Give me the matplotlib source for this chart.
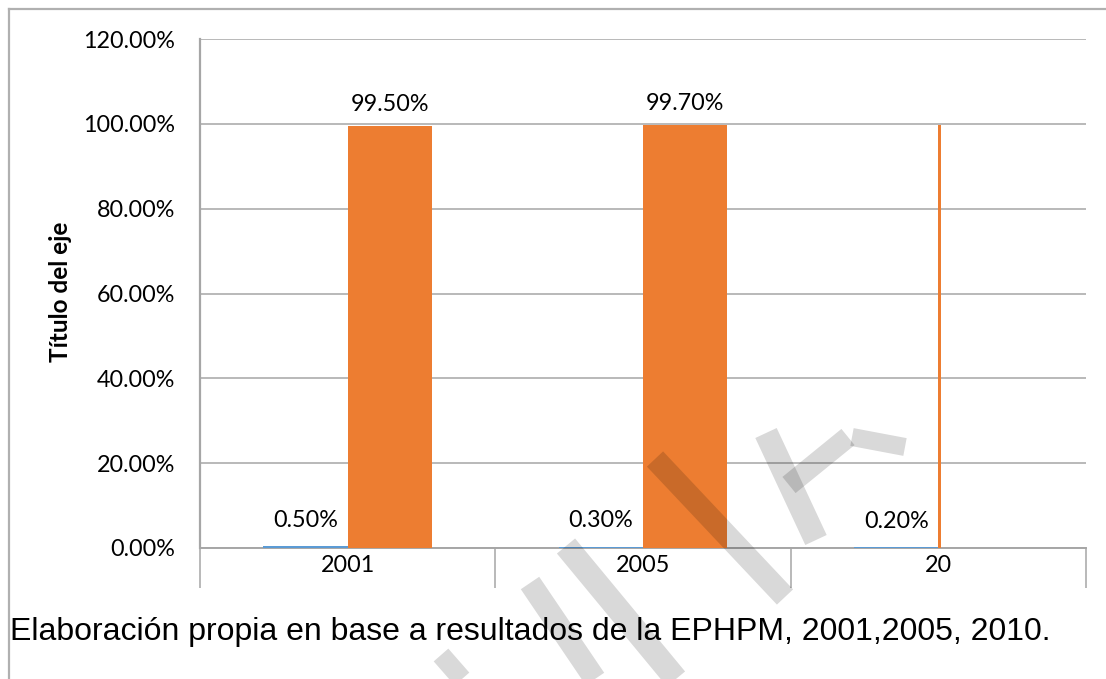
import matplotlib
matplotlib.use('Agg')
import matplotlib.pyplot as plt
from matplotlib.lines import Line2D
from matplotlib.ticker import FuncFormatter

# data
categories = ['2001', '2005', '20']
serie_a = [0.5, 0.3, 0.2]        # azul
serie_b = [99.5, 99.7, 99.8]     # naranja
labels_a = ['0.50%', '0.30%', '0.20%']
labels_b = ['99.50%', '99.70%', None]
y_ticks = [0, 20, 40, 60, 80, 100, 120]

W, H = 1106, 679
fig = plt.figure(figsize=(W / 100, H / 100), dpi=100)
fig.patch.set_facecolor('white')

def px(x, y):
    return x / W, 1 - y / H

left, top = px(200, 39)
right, bottom = px(1086, 548)
ax = fig.add_axes([left, bottom, right - left, top - bottom])

blue = '#5B9BD5'
orange = '#ED7D31'
grid_c = '#A6A6A6'
tick_font = 'Lato'
fs = 16.8

x = list(range(len(categories)))
bw = 0.285
bars_a = ax.bar([i - bw / 2 for i in x], serie_a, bw, color=blue, zorder=3)
bars_b = ax.bar([i + bw / 2 for i in x], serie_b, bw, color=orange, zorder=3)
# last orange bar is cut off in the original document
bars_b[2].set_x(x[2])
bars_b[2].set_width(0.009)

for b, lab in zip(bars_a, labels_a):
    ax.annotate(lab, (b.get_x() + b.get_width() / 2, b.get_height()),
                xytext=(0, 11), textcoords='offset points', ha='center',
                va='bottom', fontsize=fs, family=tick_font)
for b, lab in zip(bars_b, labels_b):
    if lab is None:
        continue
    ax.annotate(lab, (b.get_x() + b.get_width() / 2, b.get_height()),
                xytext=(0, 8), textcoords='offset points', ha='center',
                va='bottom', fontsize=fs, family=tick_font)

ax.set_xlim(-0.5, len(categories) - 0.5)
ax.set_ylim(0, 120)
ax.set_yticks(y_ticks)
ax.yaxis.set_major_formatter(FuncFormatter(lambda v, p: f'{v:.2f}%'))
ax.yaxis.grid(True, color=grid_c, linewidth=1.1, zorder=0)
ax.set_axisbelow(True)
ax.tick_params(axis='y', length=0, pad=18, labelsize=fs)
for t in ax.get_yticklabels():
    t.set_family(tick_font)

ax.set_xticks(x)
ax.set_xticklabels(categories, family=tick_font, fontsize=fs)
ax.set_xticks([i - 0.5 for i in range(len(categories) + 1)], minor=True)
ax.tick_params(axis='x', which='major', length=0, pad=5)
ax.tick_params(axis='x', which='minor', length=29, width=1.1, color=grid_c)

for s in ['top', 'right']:
    ax.spines[s].set_visible(False)
ax.spines['left'].set_color(grid_c)
ax.spines['left'].set_linewidth(1.6)
ax.spines['bottom'].set_color(grid_c)
ax.spines['bottom'].set_linewidth(1.4)

fig.text(*px(60, 292), 'Título del eje', rotation=90, ha='center', va='center',
         fontsize=17.5, fontweight='bold', family=tick_font)

fig.text(*px(10, 632), 'Elaboración propia en base a resultados de la EPHPM, 2001,2005, 2010.',
         ha='left', va='center', fontsize=23, family='Liberation Sans')

# chart frame (top and left edges only, rest is cropped)
fig.add_artist(Line2D([9 / W, 1], [1 - 9 / H, 1 - 9 / H], color='#B0B0B0', lw=1.6,
                      transform=fig.transFigure))
fig.add_artist(Line2D([9 / W, 9 / W], [0, 1 - 9 / H], color='#B0B0B0', lw=1.6,
                      transform=fig.transFigure))

# watermark strokes
strokes = [
    ((655, 459), (785, 597), 16),
    ((766, 433), (816, 540), 17),
    ((789, 485), (848, 437), 15),
    ((852, 437), (905, 447), 13),
    ((566, 546), (676, 679), 17),
    ((530, 583), (595, 679), 16),
    ((441, 655), (462, 679), 14),
]
for (x0, y0), (x1, y1), lw in strokes:
    a, b = px(x0, y0)
    c, d = px(x1, y1)
    fig.add_artist(Line2D([a, c], [b, d], color='black', alpha=0.15, lw=lw,
                          solid_capstyle='butt', transform=fig.transFigure, zorder=10))

fig.savefig('out.png', dpi=100)
